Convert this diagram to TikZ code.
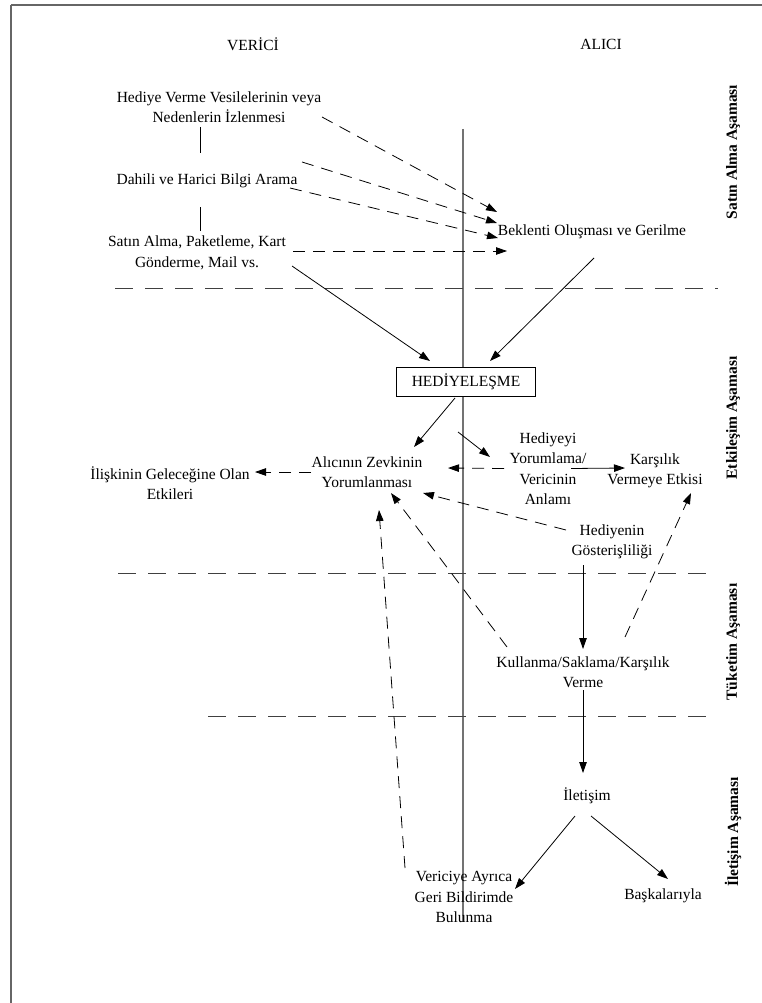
\documentclass[tikz,border=0pt]{standalone}
\usepackage{fontspec}
\setmainfont{Liberation Serif}
\usetikzlibrary{arrows.meta,calc}
\begin{document}
\begin{tikzpicture}[x=1pt,y=-1pt,
  lbl/.style={align=center,inner sep=0pt,font=\fontsize{15.5}{20.4}\selectfont},
  phase/.style={rotate=90,inner sep=0pt,font=\fontsize{15.5}{18}\selectfont\bfseries},
  sar/.style={draw=black,line width=0.8pt,-{Triangle[length=11pt,width=7.5pt]}},
  dar/.style={sar,dash pattern=on 12pt off 8pt},
  sep/.style={draw=black!75,line width=1pt,dash pattern=on 18pt off 12pt},
  conn/.style={draw=black,line width=0.8pt}]
\useasboundingbox (0,0) rectangle (762,1003);
% frame
\draw[black!60,line width=2pt] (11,5) -- (762,5);
\draw[black!60,line width=2pt] (11,5) -- (11,1003);
% central axis
\draw[black!55,line width=1.4pt] (463,129) -- (463,922);
% separators
\draw[sep] (115,288) -- (718,288);
\draw[sep] (118,573) -- (717,573);
\draw[sep] (208,716) -- (717,716);
% headers
\node[lbl] (ver0) at (253,44) {VERİCİ};
\node[lbl] (ali0) at (601,44) {ALICI};
% phase labels
\node[phase] (p1) at (733,152) {Satın Alma Aşaması};
\node[phase] (p2) at (733,418) {Etkileşim Aşaması};
\node[phase] (p3) at (733,642) {Tüketim Aşaması};
\node[phase] (p4) at (733,832) {İletişim Aşaması};
% nodes
\node[lbl] (hed1) at (219,107) {Hediye Verme Vesilelerinin veya\\Nedenlerin İzlenmesi};
\node[lbl] (dah) at (207,181) {Dahili ve Harici Bilgi Arama};
\node[lbl] (sat) at (197,253) {Satın Alma, Paketleme, Kart\\Gönderme, Mail vs.};
\node[lbl] (bek) at (592,232) {Beklenti Oluşması ve Gerilme};
\node[lbl,draw=black,line width=0.8pt,fill=white,minimum width=139pt,minimum height=29pt] (hb) at (466,382) {HEDİYELEŞME};
\node[lbl] (alz) at (367,472) {Alıcının Zevkinin\\Yorumlanması};
\node[lbl] (ilis) at (170,483) {İlişkinin Geleceğine Olan\\Etkileri};
\node[lbl] (hyo) at (548,468.5) {Hediyeyi\\Yorumlama/\\Vericinin\\Anlamı};
\node[lbl] (kar) at (655,471) {Karşılık\\Vermeye Etkisi};
\node[lbl] (hgo) at (612,542) {Hediyenin\\Gösterişliliği};
\node[lbl] (kul) at (583,672) {Kullanma/Saklama/Karşılık\\Verme};
\node[lbl] (ilet) at (587,796) {İletişim};
\node[lbl] (vrc) at (464,897) {Vericiye Ayrıca\\Geri Bildirimde\\Bulunma};
\node[lbl] (bas) at (663,896) {Başkalarıyla};
% short links on the sender side
\draw[conn] ($(hed1)+(-19,20)$) -- ($(dah)+(-7,-28)$);
\draw[conn] ($(dah)+(-7,26)$) -- ($(sat)+(3,-22)$);
% dashed arrows to expectation
\draw[dar] ($(hed1)+(103,10)$) -- ($(bek)+(-95,-20)$);
\draw[dar] ($(dah)+(95,-19)$) -- ($(bek)+(-95,-9)$);
\draw[dar] ($(dah)+(83,7)$) -- ($(bek)+(-94,6)$);
\draw[dar] ($(sat)+(96,-2)$) -- ($(bek)+(-85,19)$);
% to gifting
\draw[sar] ($(sat)+(95,13)$) -- ($(hb)+(-36,-21)$);
\draw[sar] ($(bek)+(2,26)$) -- ($(hb)+(24,-21)$);
% interaction
\draw[sar] ($(hb)+(-11,16)$) -- ($(alz)+(47,-25)$);
\draw[sar] ($(hb)+(-8,50)$) -- ($(hyo)+(-58,-11.5)$);
\draw[sar] ($(hyo)+(23,0)$) -- ($(kar)+(-30,-3)$);
\draw[dar] ($(hyo)+(-44,0)$) -- ($(alz)+(81,-4)$);
\draw[dar] ($(alz)+(-56,0)$) -- ($(ilis)+(85,-11)$);
\draw[dar] ($(hgo)+(-46,-12)$) -- ($(alz)+(56,21)$);
\draw[dar] ($(kul)+(-76,-25)$) -- ($(alz)+(24,21)$);
\draw[dar] ($(vrc)+(-59,-29)$) -- ($(alz)+(12,38)$);
\draw[dar] ($(kul)+(42,-35)$) -- ($(kar)+(36,22)$);
% consumption and communication
\draw[sar] ($(hgo)+(-29,23)$) -- ($(kul)+(0,-23)$);
\draw[sar] ($(kul)+(0,18)$) -- ($(ilet)+(-4,-23)$);
\draw[sar] ($(ilet)+(-12,20)$) -- ($(vrc)+(51,-8)$);
\draw[sar] ($(ilet)+(4,20)$) -- ($(bas)+(5,-17)$);
\end{tikzpicture}
\end{document}
